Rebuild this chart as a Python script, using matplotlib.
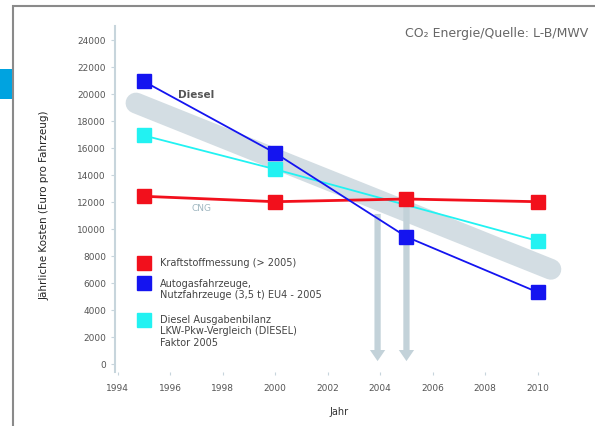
import numpy as np
import matplotlib.pyplot as plt
from matplotlib.patches import Rectangle

# data
years = [1995, 2000, 2005, 2010]
rot = [12400, 12000, 12200, 12000]        # rot, fast flach
blau = [20900, 15600, 9400, 5300]         # blau, faellt stark
tuerkis_jahre = [1995, 2000, 2010]
tuerkis = [16900, 14400, 9100]
band_jahre = [1994.7, 2010.5]
band = [19300, 7000]
pfeil_jahre = [2003.9, 2005.0]
pfeil_start = [11300, 12000]

yticks = list(range(0, 24001, 2000))
xticks = list(range(1994, 2011, 2))

W, H = 595, 427
fig = plt.figure(figsize=(W / 100, H / 100), dpi=100)
fig.patches.append(Rectangle((13 / W, -0.1), 1.2, (H - 7) / H + 0.1, transform=fig.transFigure,
                             fill=False, edgecolor='#8a8a8a', linewidth=1.5))
fig.patches.append(Rectangle((0, 1 - 100 / H), 12 / W, 30 / H, transform=fig.transFigure,
                             facecolor='#00a3e0', edgecolor='none'))

ax = fig.add_axes([115 / W, 1 - 373 / H, (564 - 115) / W, (373 - 27) / H])
ax.set_xlim(1993.9, 2011)
ax.set_ylim(-600, 25000)

# breites graues Band
ax.plot(band_jahre, band, color='#d3dde3', linewidth=15, solid_capstyle='round', zorder=1)

# Pfeile nach unten
for px, ps in zip(pfeil_jahre, pfeil_start):
    ax.annotate('', xy=(px, 0), xytext=(px, ps),
                arrowprops=dict(arrowstyle='simple,head_width=1.1,head_length=0.8,tail_width=0.45',
                                color='#c3d2d9', lw=0), zorder=2)

ax.plot(years, rot, color='#f2101c', linewidth=2, marker='s', markersize=9.5, zorder=4)
ax.plot(years, blau, color='#1414f0', linewidth=1.3, marker='s', markersize=9.5, zorder=4)
ax.plot(tuerkis_jahre, tuerkis, color='#22f2f2', linewidth=1.3, marker='s', markersize=9.5, zorder=3)

ax.text(1996.3, 20000, 'Diesel', fontsize=7.5, fontweight='bold', color='#555555', va='center')
ax.text(1996.8, 11600, 'CNG', fontsize=6.5, color='#9fb6c0', va='center')

# Legende als Text
leg = [('#f2101c', 'Kraftstoffmessung (> 2005)', 7500),
       ('#1414f0', 'Autogasfahrzeuge,\nNutzfahrzeuge (3,5 t) EU4 - 2005', 5950),
       ('#22f2f2', 'Diesel Ausgabenbilanz\nLKW-Pkw-Vergleich (DIESEL)\nFaktor 2005', 3250)]
for c, t, y in leg:
    ax.plot([1995], [y], marker='s', color=c, markersize=9.5, linestyle='none')
    ax.text(1995.6, y + 420, t, fontsize=7, color='#444444', va='top',
            linespacing=1.15)

ax.set_yticks(yticks)
ax.set_yticklabels([str(v) for v in yticks])
ax.set_xticks(xticks)
ax.tick_params(axis='both', labelsize=6.5, colors='#c7d5dc', labelcolor='#555555', length=3)
ax.tick_params(axis='x', length=2, pad=6)
for s in ['top', 'right', 'bottom']:
    ax.spines[s].set_visible(False)
ax.spines['left'].set_color('#c7d5dc')
ax.spines['left'].set_linewidth(1.5)
ax.set_facecolor('none')

ax.set_xlabel('Jahr', fontsize=7, color='#333333', labelpad=10)
fig.text(45 / W, 1 - 205 / H, 'Jährliche Kosten (Euro pro Fahrzeug)', rotation=90,
         fontsize=7.5, color='#222222', ha='center', va='center')
fig.text(405 / W, 1 - 33 / H, 'CO₂ Energie/Quelle: L-B/MWV', fontsize=9, color='#666666',
         va='center')

plt.savefig('out.png', dpi=100)
